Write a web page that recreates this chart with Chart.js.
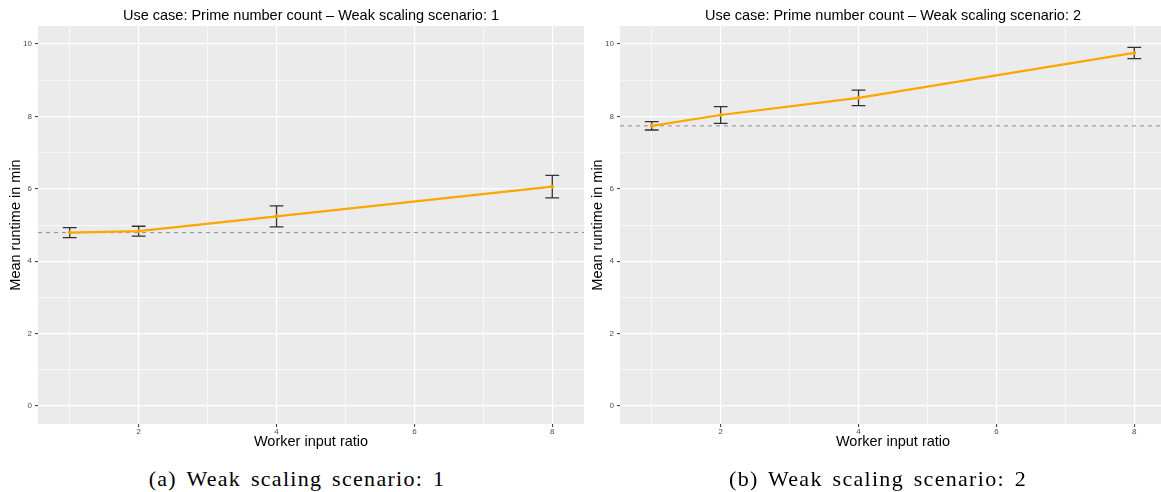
<!DOCTYPE html>
<html>
<head>
<meta charset="utf-8">
<script src="https://cdn.jsdelivr.net/npm/chart.js@4.4.1/dist/chart.umd.min.js"></script>
<style>
  html, body { margin: 0; padding: 0; background: #fff; overflow: hidden; width: 1161px; height: 492px; }
  canvas.panel { position: absolute; top: 0; }
  #scenario1 { left: 0; }
  #scenario2 { left: 582px; }
  .caption {
    position: absolute; top: 468px;
    font-family: "Liberation Serif", serif; font-size: 22px; line-height: 22px;
    letter-spacing: 1.3px; word-spacing: 3px; text-align: center; color: #000; white-space: nowrap;
  }
</style>
</head>
<body>
<canvas id="scenario1" class="panel" width="600" height="460"></canvas>
<canvas id="scenario2" class="panel" width="600" height="460"></canvas>
<div class="caption" style="left:0;width:594px">(a) Weak scaling scenario: 1</div>
<div class="caption" style="left:595px;width:566px">(b) Weak scaling scenario: 2</div>
<script>
// Worker input ratios that were measured
const ratios = [1, 2, 4, 8];

// Mean runtime (min) and half-width of the error bar per ratio
const scenario1Mean = [4.79, 4.83, 5.24, 6.06];
const scenario1Err  = [0.14, 0.135, 0.29, 0.31];
const scenario2Mean = [7.74, 8.04, 8.515, 9.755];
const scenario2Err  = [0.115, 0.23, 0.215, 0.155];

// Axis breaks: labelled (major) and grid (major + minor)
const xMajorTicks = [2, 4, 6, 8];
const xGridTicks  = [1, 2, 3, 4, 5, 6, 7, 8];
const yMajorTicks = [0, 2, 4, 6, 8, 10];
const yGridTicks  = [0, 1, 2, 3, 4, 5, 6, 7, 8, 9, 10];
const xLimits = [0.54, 8.46];
const yLimits = [-0.5, 10.5];

const panelTitles = [
  'Use case: Prime number count \u2013 Weak scaling scenario: 1',
  'Use case: Prime number count \u2013 Weak scaling scenario: 2'
];
const xAxisTitle = 'Worker input ratio';
const yAxisTitle = 'Mean runtime in min';

const SANS = '"Liberation Sans", Arial, sans-serif';

// grey panel behind the grid
const panelBackground = {
  id: 'panelBackground',
  beforeDraw(chart) {
    const { ctx, chartArea: a } = chart;
    ctx.save();
    ctx.fillStyle = '#EBEBEB';
    ctx.fillRect(a.left, a.top, a.right - a.left, a.bottom - a.top);
    ctx.restore();
  }
};

// whiskers with caps, drawn right after the dashed baseline
const errorBars = {
  id: 'errorBars',
  afterDatasetDraw(chart, args, opts) {
    if (args.index !== opts.after) return;
    const { ctx } = chart;
    const xs = chart.scales.x, ys = chart.scales.y;
    const pts = chart.data.datasets[opts.source].data;
    ctx.save();
    ctx.strokeStyle = opts.color;
    ctx.lineWidth = opts.width;
    pts.forEach((p, i) => {
      const e = opts.errors[i];
      const px = xs.getPixelForValue(p.x);
      const yHi = ys.getPixelForValue(p.y + e);
      const yLo = ys.getPixelForValue(p.y - e);
      const xl = xs.getPixelForValue(p.x - opts.capWidth / 2);
      const xr = xs.getPixelForValue(p.x + opts.capWidth / 2);
      ctx.beginPath();
      ctx.moveTo(px, yHi); ctx.lineTo(px, yLo);
      ctx.moveTo(xl, yHi); ctx.lineTo(xr, yHi);
      ctx.moveTo(xl, yLo); ctx.lineTo(xr, yLo);
      ctx.stroke();
    });
    ctx.restore();
  }
};

function gridAxis(major) {
  return {
    color: '#FFFFFF',
    lineWidth: c => (c.tick && major.includes(c.tick.value)) ? 1.2 : 0.6,
    drawTicks: true,
    tickLength: 3,
    tickWidth: 1,
    tickColor: c => (c.tick && major.includes(c.tick.value)) ? '#333333' : 'rgba(0,0,0,0)'
  };
}

function buildChart(canvasId, title, means, errs) {
  const points = ratios.map((r, i) => ({ x: r, y: means[i] }));
  const baseline = means[0];
  return new Chart(document.getElementById(canvasId), {
    type: 'line',
    data: {
      datasets: [
        {
          data: points,
          borderColor: '#FFA500',
          backgroundColor: '#FFA500',
          borderWidth: 2.2,
          pointRadius: 2,
          pointBorderWidth: 0,
          tension: 0,
          order: 1
        },
        {
          data: [{ x: xLimits[0], y: baseline }, { x: xLimits[1], y: baseline }],
          borderColor: '#8F8F8F',
          borderWidth: 1,
          borderDash: [4, 4],
          pointRadius: 0,
          order: 2
        }
      ]
    },
    plugins: [panelBackground, errorBars],
    options: {
      responsive: false,
      animation: false,
      devicePixelRatio: 1,
      events: [],
      layout: { padding: { left: 0, right: 16, top: 0, bottom: 0 } },
      plugins: {
        legend: { display: false },
        tooltip: { enabled: false },
        title: {
          display: true, text: title, fullSize: false, color: '#000',
          font: { family: SANS, size: 14.5, weight: 'normal' },
          padding: { top: 7, bottom: 1.6 }
        },
        errorBars: { after: 1, source: 0, errors: errs, capWidth: 0.2, color: '#333333', width: 1.3 }
      },
      scales: {
        x: {
          type: 'linear',
          min: xLimits[0], max: xLimits[1],
          afterBuildTicks: s => { s.ticks = xGridTicks.map(v => ({ value: v })); },
          afterFit: s => { s.height = 36; },
          grid: gridAxis(xMajorTicks),
          border: { display: false },
          ticks: {
            autoSkip: false, maxRotation: 0, minRotation: 0, padding: 0,
            color: '#4D4D4D', font: { family: SANS, size: 8 },
            callback: v => xMajorTicks.includes(v) ? String(v) : ''
          },
          title: {
            display: true, text: xAxisTitle, color: '#000',
            font: { family: SANS, size: 14.5 },
            padding: { top: 0, bottom: 9.3 }
          }
        },
        y: {
          type: 'linear',
          min: yLimits[0], max: yLimits[1],
          afterBuildTicks: s => { s.ticks = yGridTicks.map(v => ({ value: v })); },
          afterFit: s => { s.width = 38; },
          grid: gridAxis(yMajorTicks),
          border: { display: false },
          ticks: {
            autoSkip: false, padding: 3,
            color: '#4D4D4D', font: { family: SANS, size: 8 },
            callback: v => yMajorTicks.includes(v) ? String(v) : ''
          },
          title: {
            display: true, text: yAxisTitle, color: '#000',
            font: { family: SANS, size: 14.5 },
            padding: { top: 7.3, bottom: 0 }
          }
        }
      }
    }
  });
}

buildChart('scenario1', panelTitles[0], scenario1Mean, scenario1Err);
buildChart('scenario2', panelTitles[1], scenario2Mean, scenario2Err);
</script>
</body>
</html>
